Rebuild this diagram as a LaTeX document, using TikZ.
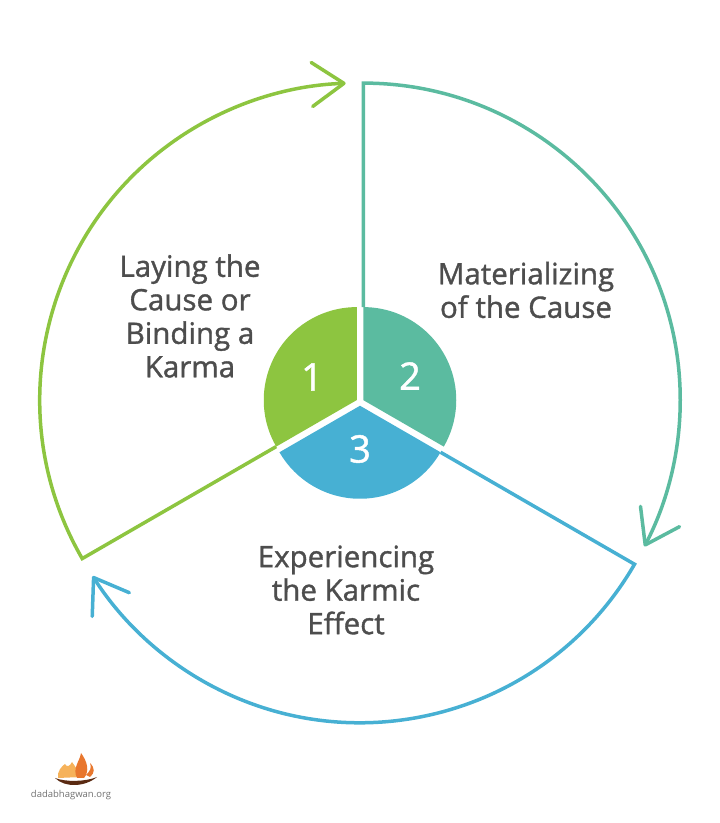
\documentclass[tikz,border=0pt]{standalone}
\usepackage{fontspec}
\setmainfont{Open Sans}
\newfontfamily\stagefont[FakeBold=1.2]{Open Sans}
\usetikzlibrary{arrows.meta}
\definecolor{cgreen}{HTML}{8DC540}
\definecolor{cteal}{HTML}{5BBBA0}
\definecolor{cblue}{HTML}{47B0D3}
\definecolor{ctext}{HTML}{4D4D4D}
\definecolor{flamedark}{HTML}{E8772E}
\definecolor{flamelight}{HTML}{F6B25A}
\definecolor{lampbowl}{HTML}{5A2A12}
\tikzset{>/.tip={Straight Barb[length=32pt,width=44pt,round]},
  ring/.style={line width=3.5pt,->},
  stage/.style={text=ctext,align=center,font=\stagefont\fontsize{29.5}{33.5}\selectfont},
  num/.style={text=white,font=\stagefont\fontsize{38}{38}\selectfont}}

\begin{document}
\begin{tikzpicture}[x=1pt,y=1pt]
\useasboundingbox (0,0) rectangle (720,823);
\coordinate (c1) at (356.75,422.9);
\coordinate (c2) at (363.25,422.9);
\coordinate (c3) at (360,417.25);
\path (c1) ++(210:93) coordinate (s1) ++(210:224) coordinate (t1);
\path (c2) ++(90:93) coordinate (s2) ++(90:224) coordinate (t2);
\path (c3) ++(-30:93) coordinate (s3) ++(-30:224) coordinate (t3);

\draw[ring,cgreen] (s1) -- (t1) arc[start angle=210,end angle=92,radius=317];
\draw[ring,cteal] (s2) -- (t2) arc[start angle=90,end angle=-27.5,radius=317];
\draw[ring,cblue] (s3) -- (t3) arc[start angle=-30,end angle=-147.5,radius=317];

\fill[cgreen] (c1) -- (s1) arc[start angle=210,end angle=90,radius=93] -- cycle;
\fill[cteal] (c2) -- (s2) arc[start angle=90,end angle=-30,radius=93] -- cycle;
\fill[cblue] (c3) -- (s3) arc[start angle=-30,end angle=-150,radius=93] -- cycle;

\node[num] (n1) at (312,446) {1};
\node[num] (n2) at (410,447) {2};
\node[num] (n3) at (360,374) {3};

\node[stage] (lay) at (190,507) {Laying the\\Cause or\\Binding a\\Karma};
\node[stage] (mat) at (526,533) {Materializing\\of the Cause};
\node[stage] (exp) at (346,233) {Experiencing\\the Karmic\\Effect};

\fill[flamelight] (58,45) .. controls (57,52) and (62,57) .. (65,59) .. controls (67,55) and (70,57) .. (72,61) .. controls (75,57) and (78,52) .. (82,46) -- cycle;
\fill[flamedark] (77,45) .. controls (72,55) and (80,62) .. (81,70) .. controls (87,62) and (90,52) .. (84,45) -- cycle;
\fill[flamedark] (86,48) .. controls (90,52) and (92,55) .. (90,60) .. controls (95,55) and (95,50) .. (90,46) -- cycle;
\fill[lampbowl] (55,45) .. controls (65,35) and (85,36) .. (97,46) .. controls (85,41) and (65,41) .. cycle;
\node[text=ctext!80,font=\fontsize{9.5}{10}\selectfont] (logo) at (71,28) {dadabhagwan.org};
\end{tikzpicture}
\end{document}
